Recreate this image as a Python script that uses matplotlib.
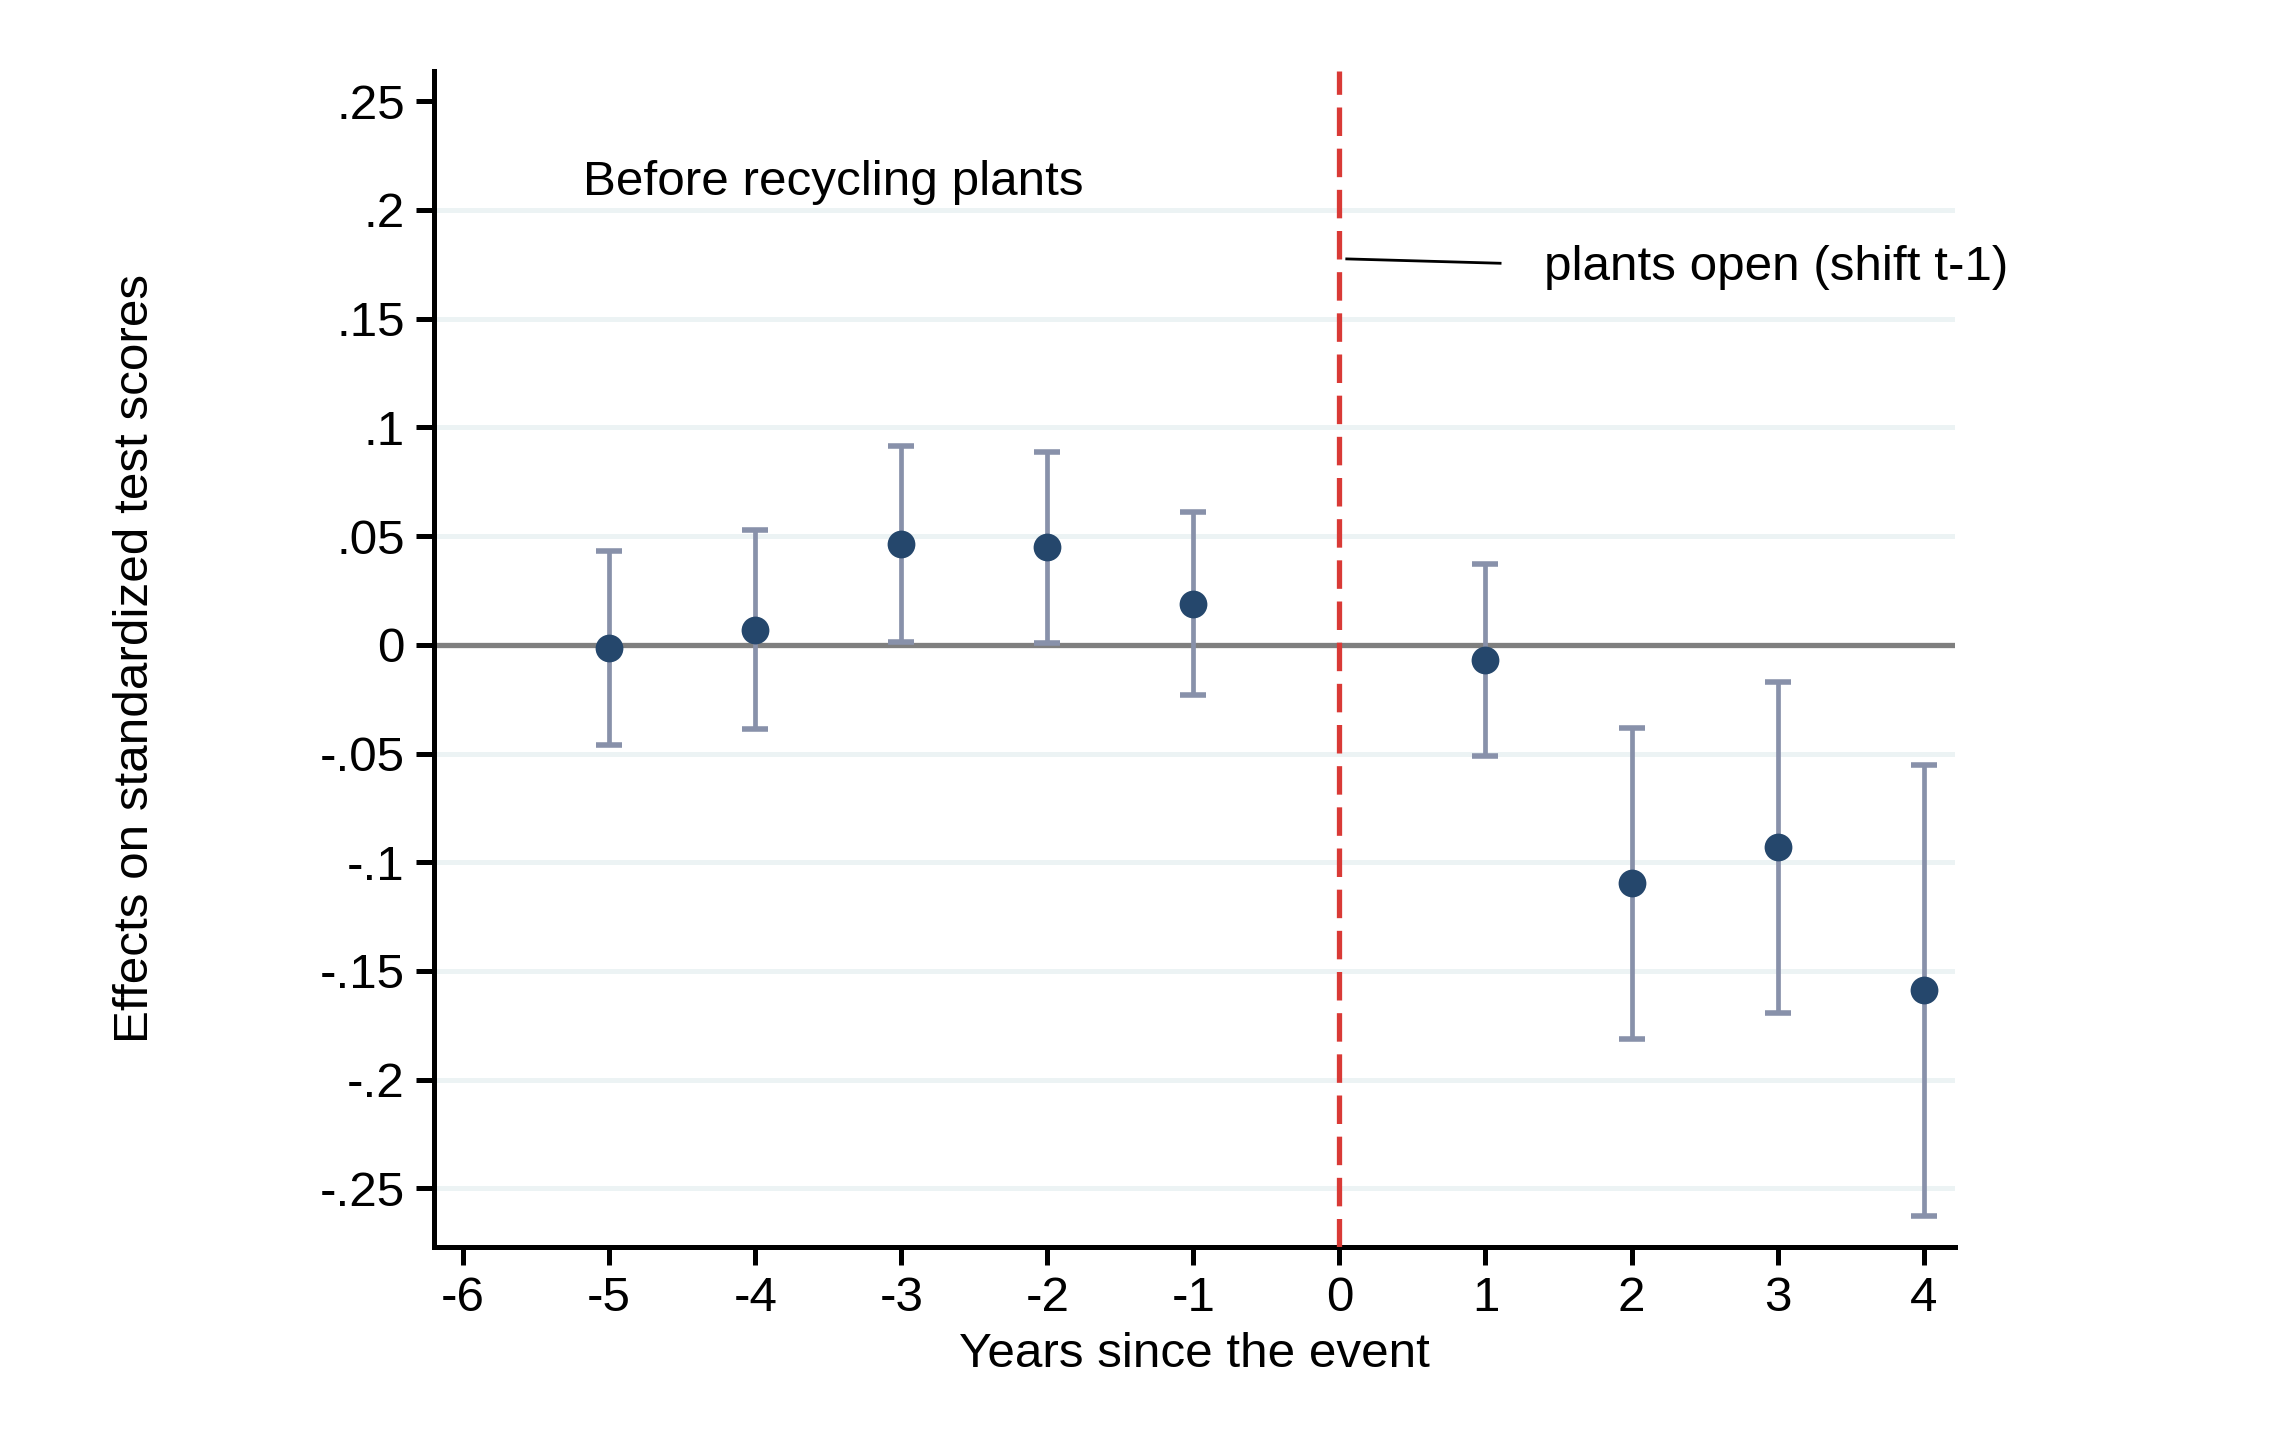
import matplotlib
matplotlib.use("Agg")
import matplotlib.pyplot as plt
from matplotlib.ticker import FixedLocator, FuncFormatter

# event-study estimates
years = [-5, -4, -3, -2, -1, 1, 2, 3, 4]
coef = [-0.0015, 0.0069, 0.0465, 0.0448, 0.0190, -0.0070, -0.1096, -0.0931, -0.1588]
ci_low = [-0.0460, -0.0388, 0.0014, 0.0008, -0.0233, -0.0512, -0.1813, -0.1692, -0.2626]
ci_high = [0.0430, 0.0528, 0.0915, 0.0887, 0.0612, 0.0370, -0.0382, -0.0169, -0.0551]

x_ticks = [-6, -5, -4, -3, -2, -1, 0, 1, 2, 3, 4]
y_ticks = [-0.25, -0.2, -0.15, -0.1, -0.05, 0, 0.05, 0.1, 0.15, 0.2, 0.25]
grid_levels = [-0.25, -0.2, -0.15, -0.1, -0.05, 0.05, 0.1, 0.15, 0.2]

event_x = 0
label_before = "Before recycling plants"
label_event = "plants open (shift t-1)"


def stata_fmt(v, pos):
    if abs(v) < 1e-9:
        return "0"
    s = ("%g" % v)
    s = s.replace("0.", ".")
    return s


plt.rcParams['font.family'] = ['Liberation Sans', 'DejaVu Sans']
plt.rcParams['axes.unicode_minus'] = False

fs = 17.8

fig = plt.figure(figsize=(11.48, 7.23), dpi=200)
ax = fig.add_axes([0.189, 0.1376, 0.8515 - 0.189, 0.951 - 0.1376])

ax.set_xlim(-6.2, 4.215)
ax.set_ylim(-0.277, 0.264)

for g in grid_levels:
    ax.axhline(g, color='#ecf3f4', lw=1.8, zorder=1)
ax.axhline(0, color='#7f7f7f', lw=1.9, zorder=2)

ax.axvline(event_x, color='#d93a36', lw=1.9, dashes=(5.4, 2.4), zorder=3)

yerr = [[c - lo for c, lo in zip(coef, ci_low)], [hi - c for c, hi in zip(coef, ci_high)]]
ax.errorbar(years, coef, yerr=yerr, fmt='none', ecolor='#8891aa', elinewidth=1.7,
            capsize=4.8, capthick=2.0, zorder=4)
ax.plot(years, coef, 'o', color='#25476c', markersize=10, markeredgewidth=0, zorder=5)

ax.text(-5.18, 0.2125, label_before, fontsize=fs, ha='left', va='center')
ax.plot([0.05, 1.1], [0.1775, 0.1755], color='black', lw=1.0, zorder=6)
ax.text(1.4, 0.1735, label_event, fontsize=fs, ha='left', va='center')

ax.xaxis.set_major_locator(FixedLocator(x_ticks))
ax.yaxis.set_major_locator(FixedLocator(y_ticks))
ax.yaxis.set_major_formatter(FuncFormatter(stata_fmt))

for side in ['top', 'right']:
    ax.spines[side].set_visible(False)
for side in ['left', 'bottom']:
    ax.spines[side].set_linewidth(1.8)
    ax.spines[side].set_color('black')

ax.tick_params(axis='both', direction='out', length=6.5, width=1.8, labelsize=fs, pad=4)

ax.set_xlabel("Years since the event", fontsize=fs, labelpad=4)
ax.set_ylabel("Effects on standardized test scores", fontsize=fs, labelpad=58)

fig.savefig("out.png", dpi=200, facecolor='white')
